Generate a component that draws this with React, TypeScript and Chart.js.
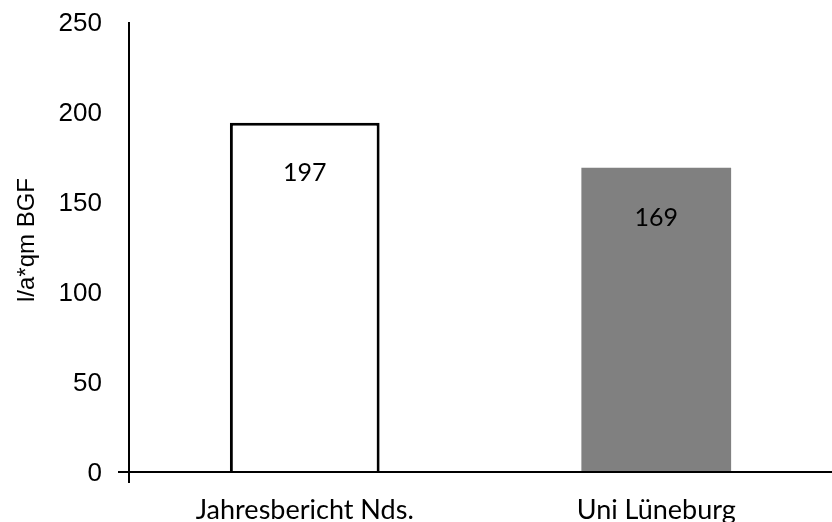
import React, { useEffect, useRef } from "react";
import { Chart, registerables } from "chart.js";

Chart.register(...registerables);

const categories = ["Jahresbericht Nds.", "Uni Lüneburg"];
const values = [194, 169];
const valueLabels = ["197", "169"];
const barColors = ["#ffffff", "#808080"];
const barBorders = ["#000000", "#808080"];
const borderWidths = [3, 0];
const yTicks = [0, 50, 100, 150, 200, 250];
const yTitle = "l/a*qm BGF";

const axisPlugin = {
  id: "axisLines",
  afterDraw(chart: any) {
    const { ctx, scales } = chart;
    const x = scales.x;
    const y = scales.y;
    const y0 = y.getPixelForValue(0);
    const yTop = y.getPixelForValue(250);
    ctx.save();
    ctx.strokeStyle = "#000";
    ctx.lineWidth = 2;
    ctx.beginPath();
    ctx.moveTo(x.left, yTop);
    ctx.lineTo(x.left, y0 + 11);
    ctx.moveTo(x.left - 11, y0);
    ctx.lineTo(chart.width, y0);
    ctx.stroke();
    // value labels
    ctx.fillStyle = "#000";
    ctx.font = "25px Lato";
    ctx.textAlign = "center";
    ctx.textBaseline = "middle";
    const meta = chart.getDatasetMeta(0);
    meta.data.forEach((bar: any, i: number) => {
      ctx.fillText(valueLabels[i], bar.x, bar.y + 50);
    });
    // y axis title
    ctx.font = "24px 'Liberation Sans'";
    ctx.translate(27, 240);
    ctx.rotate(-Math.PI / 2);
    ctx.fillText(yTitle, 0, 0);
    ctx.restore();
  },
};

export default function App() {
  const ref = useRef<HTMLCanvasElement>(null);
  useEffect(() => {
    document.body.style.margin = "0";
    const chart = new Chart(ref.current!, {
      type: "bar",
      data: {
        labels: categories,
        datasets: [
          {
            data: values,
            backgroundColor: barColors,
            borderColor: barBorders,
            borderWidth: borderWidths,
            borderSkipped: "bottom",
            barPercentage: 0.426,
            categoryPercentage: 1,
          },
        ],
      },
      options: {
        animation: false,
        responsive: false,
        layout: { padding: { top: 22, right: -6, left: 0, bottom: 0 } },
        plugins: { legend: { display: false }, tooltip: { enabled: false } },
        scales: {
          x: {
            grid: { display: false, drawTicks: false },
            border: { display: false },
            ticks: {
              color: "#000",
              font: { family: "Lato", size: 27 },
              padding: 22,
              maxRotation: 0,
            },
            afterFit(scale: any) {
              scale.height = 50;
              scale.paddingLeft = 0;
              scale.paddingRight = 0;
            },
          },
          y: {
            min: 0,
            max: 250,
            afterBuildTicks(scale: any) {
              scale.ticks = yTicks.map((v) => ({ value: v }));
            },
            grid: { display: false, drawTicks: false },
            border: { display: false },
            ticks: {
              color: "#000",
              font: { family: "Liberation Sans", size: 26 },
              padding: 27,
              labelOffset: 2,
            },
            afterFit(scale: any) {
              scale.width = 129;
              scale.paddingTop = 0;
              scale.paddingBottom = 0;
            },
          },
        },
      },
      plugins: [axisPlugin],
    });
    return () => chart.destroy();
  }, []);
  return <canvas ref={ref} width={832} height={522} style={{ display: "block" }} />;
}
